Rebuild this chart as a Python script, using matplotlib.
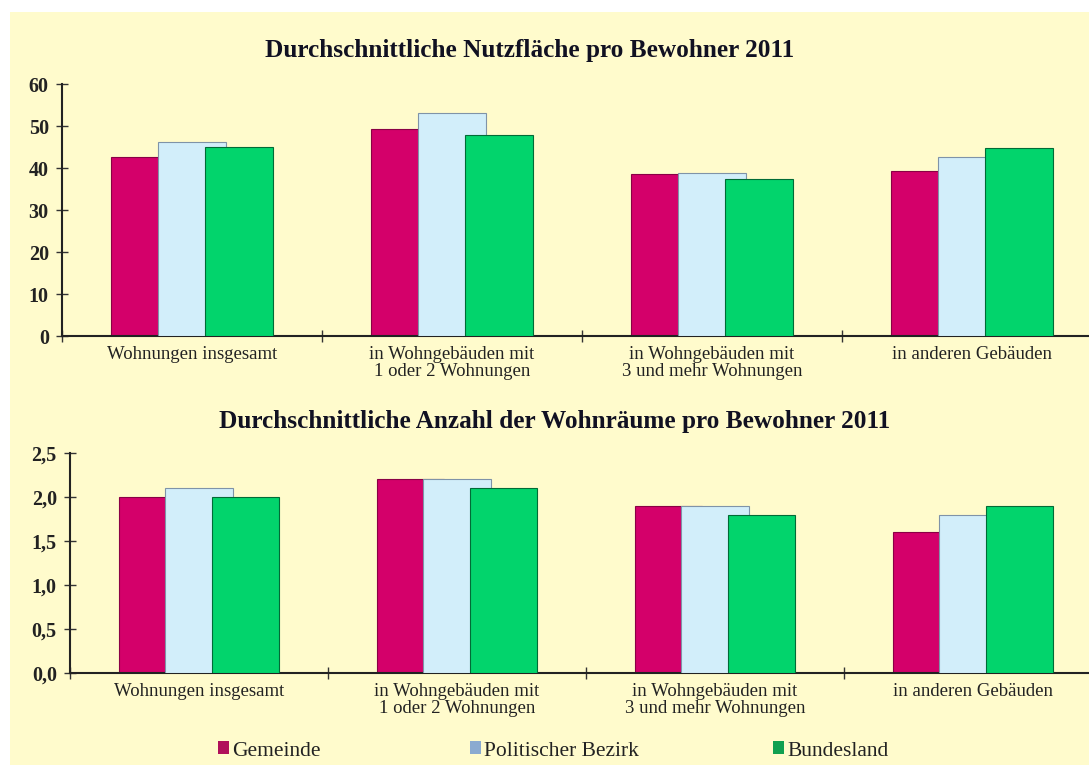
import matplotlib
matplotlib.use("Agg")
import matplotlib.pyplot as plt
from matplotlib.patches import Rectangle, Patch
import numpy as np

categories = ["Wohnungen insgesamt",
              "in Wohngebäuden mit\n1 oder 2 Wohnungen",
              "in Wohngebäuden mit\n3 und mehr Wohnungen",
              "in anderen Gebäuden"]
series = ["Gemeinde", "Politischer Bezirk", "Bundesland"]
colors = ["#D4006A", "#D2EEFA", "#02D46C"]
edge_colors = ["#8A0045", "#7F93A8", "#016B36"]
legend_colors = ["#B0105A", "#8AAAD0", "#10A050"]

nutzflaeche_gemeinde = [42.6, 49.4, 38.6, 39.4]
nutzflaeche_bezirk = [46.3, 53.0, 38.7, 42.6]
nutzflaeche_land = [44.9, 47.9, 37.4, 44.7]

raeume_gemeinde = [2.0, 2.2, 1.9, 1.6]
raeume_bezirk = [2.1, 2.2, 1.9, 1.8]
raeume_land = [2.0, 2.1, 1.8, 1.9]

title_top = "Durchschnittliche Nutzfläche pro Bewohner 2011"
title_bottom = "Durchschnittliche Anzahl der Wohnräume pro Bewohner 2011"
yticks_top = [0, 10, 20, 30, 40, 50, 60]
yticks_bottom = [0.0, 0.5, 1.0, 1.5, 2.0, 2.5]
yticklabels_bottom = ["0,0", "0,5", "1,0", "1,5", "2,0", "2,5"]

W, H = 1089, 765
plt.rcParams['font.family'] = ['Liberation Serif', 'DejaVu Serif']
fig = plt.figure(figsize=(W / 100, H / 100), dpi=100, facecolor="white")
bg = "#FFFBCC"
fig.patches.append(Rectangle((10 / W, 0), 1 - 10 / W, 1 - 12 / H,
                             transform=fig.transFigure, facecolor=bg,
                             edgecolor="none", zorder=-10))


def make_axes(left_px, top_px, right_px, bottom_px):
    return fig.add_axes([left_px / W, 1 - bottom_px / H,
                         (right_px - left_px) / W, (bottom_px - top_px) / H])


def draw(ax, data, ymax, yticks, ylabels):
    ax.set_facecolor("none")
    x = np.arange(len(categories))
    offs = [-0.18, 0.0, 0.18]
    width = 0.26
    for i, vals in enumerate(data):
        ax.bar(x + offs[i], vals, width, color=colors[i],
               edgecolor=edge_colors[i], linewidth=0.8, zorder=2 + i)
    ax.set_xlim(-0.5, len(categories) - 0.5)
    ax.set_ylim(0, ymax)
    ax.set_yticks(yticks)
    ax.set_yticklabels(ylabels, fontsize=14.5, fontweight="bold", color="#222222")
    ax.set_xticks(np.arange(len(categories) + 1) - 0.5, minor=False)
    ax.set_xticklabels([])
    ax.set_xticks(x, minor=True)
    ax.set_xticklabels(categories, minor=True, fontsize=13.5, color="#222222",
                       linespacing=1.0)
    ax.tick_params(axis="x", which="minor", length=0, pad=7)
    ax.tick_params(axis="x", which="major", direction="inout", length=9,
                   width=1, color="#333333")
    ax.tick_params(axis="y", direction="inout", length=9, width=1,
                   color="#333333", pad=5)
    for s in ["top", "right"]:
        ax.spines[s].set_visible(False)
    for s in ["left", "bottom"]:
        ax.spines[s].set_color("#222222")
        ax.spines[s].set_linewidth(1.5)


ax1 = make_axes(62, 84, 1102, 336)
draw(ax1, [nutzflaeche_gemeinde, nutzflaeche_bezirk, nutzflaeche_land],
     60, yticks_top, [str(v) for v in yticks_top])
fig.text(530 / W, 1 - 50 / H, title_top, ha="center", va="center",
         fontsize=18.2, fontweight="bold", color="#111122")

ax2 = make_axes(70, 453, 1102, 673)
draw(ax2, [raeume_gemeinde, raeume_bezirk, raeume_land],
     2.5, yticks_bottom, yticklabels_bottom)
fig.text(555 / W, 1 - 421 / H, title_bottom, ha="center", va="center",
         fontsize=18.2, fontweight="bold", color="#111122")

legend_x = [218, 470, 773]
for lab, c, lx in zip(series, legend_colors, legend_x):
    fig.legend([Patch(facecolor=c, edgecolor="none")], [lab],
               loc="center left", bbox_to_anchor=(lx / W, 1 - 751 / H),
               frameon=False, fontsize=15.5, handlelength=0.5,
               handleheight=0.55, handletextpad=0.15, borderpad=0,
               borderaxespad=0, labelcolor="#222222")

fig.savefig("out.png", dpi=100, facecolor="white")
